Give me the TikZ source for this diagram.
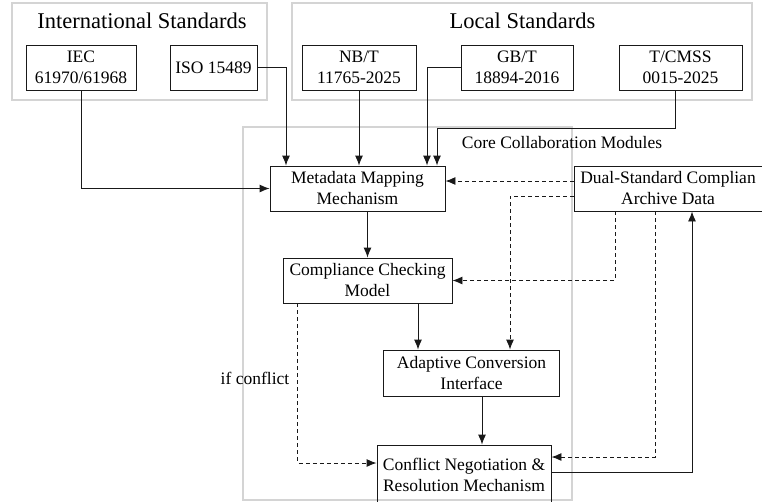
\documentclass[tikz,border=0pt]{standalone}
\usepackage{fontspec}
\setmainfont{Liberation Serif}
\usetikzlibrary{arrows.meta}
\begin{document}
\begin{tikzpicture}[x=1pt,y=-1pt,
  grp/.style={draw=black!17, line width=1.3pt},
  box/.style={draw=black!90, line width=0.9pt, rectangle, inner sep=0pt, align=center,
    font=\fontsize{17.5}{21}\selectfont},
  txt/.style={inner sep=0pt, align=center, font=\fontsize{17.5}{21}\selectfont},
  ttl/.style={inner sep=0pt, font=\fontsize{22.5}{26}\selectfont},
  conn/.style={draw=black!90, line width=0.9pt, -{Latex[length=10pt,width=8pt]}},
  dconn/.style={conn, dash pattern=on 4pt off 3pt}]
\useasboundingbox (0,0) rectangle (762,501);
\clip (0,0) rectangle (762,501);
% group boxes
\draw[grp] (12,3) rectangle (267,100);
\draw[grp] (292,3) rectangle (752,100);
\draw[grp] (243,127) rectangle (572,500);
\node[ttl] (tint) at (142,21) {International Standards};
\node[ttl] (tloc) at (522.5,21) {Local Standards};
\node[txt] (tcore) at (562,143) {Core Collaboration Modules};
% standards
\node[box, minimum width=110pt, minimum height=45pt] (iec) at (81,67.5) {IEC\\61970/61968};
\node[box, minimum width=87pt, minimum height=45pt] (iso) at (213.5,67.5) {ISO 15489};
\node[box, minimum width=114pt, minimum height=45pt] (nbt) at (359,67.5) {NB/T\\11765-2025};
\node[box, minimum width=112pt, minimum height=45pt] (gbt) at (517,67.5) {GB/T\\18894-2016};
\node[box, minimum width=123pt, minimum height=45pt] (tcm) at (680.5,67.5) {T/CMSS\\0015-2025};
% modules
\node[box, minimum width=175pt, minimum height=45pt] (meta) at (357.5,188.5) {Metadata Mapping\\Mechanism};
\node[box, minimum width=169pt, minimum height=45pt] (comp) at (367.5,280.5) {Compliance Checking\\Model};
\node[box, minimum width=176pt, minimum height=46pt] (adap) at (471.5,373) {Adaptive Conversion\\Interface};
\node[box, minimum width=174pt, minimum height=59pt] (conf) at (464,474.5) {Conflict Negotiation \&\\Resolution Mechanism};
\node[box, minimum width=202pt, minimum height=45pt] (dual) at (675,188.5) {};
\node[txt] (dualtxt) at (668,188.5) {Dual-Standard Complian\\Archive Data};
\node[txt] (ifc) at (255,378) {if conflict};
% helper coordinates on the data box
\coordinate (dw1) at ([yshift=7.5pt]dual.west);
\coordinate (dw2) at ([yshift=-7.5pt]dual.west);
% connectors from standards
\draw[conn] (iec.south) |- (meta.west);
\draw[conn] (iso.east) -| ([xshift=-71.5pt]meta.north);
\draw[conn] (nbt.south) -- (nbt.south |- meta.north);
\draw[conn] (gbt.west) -| ([xshift=69.5pt]meta.north);
\draw[conn] ([xshift=-5.5pt]tcm.south) -- ++(0,38) -| ([xshift=79.5pt]meta.north);
% module flow
\draw[conn] (comp.north |- meta.south) -- (comp.north);
\draw[conn] ([xshift=50.5pt]comp.south) -- ([xshift=50.5pt]comp.south |- adap.north);
\draw[conn] ([xshift=10.5pt]adap.south) -- ([xshift=10.5pt]adap.south |- conf.north);
\draw[dconn] ([xshift=-70pt]comp.south) |- ([yshift=11.5pt]conf.west);
% dual data
\draw[dconn] (dw1) -- (meta.east |- dw1);
\draw[dconn] (dw2) -| ([xshift=38.5pt]adap.north);
\draw[dconn] ([xshift=-60pt]dual.south) |- (comp.east);
\draw[dconn] ([xshift=-20pt]dual.south) |- ([yshift=17.5pt]conf.east);
\draw[conn] ([yshift=2.5pt]conf.east) -| ([xshift=17pt]dual.south);
\end{tikzpicture}
\end{document}
